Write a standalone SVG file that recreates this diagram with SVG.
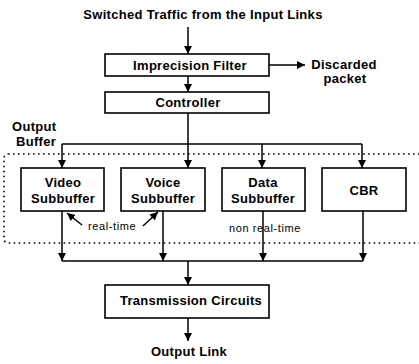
<svg xmlns="http://www.w3.org/2000/svg" width="419" height="364" viewBox="0 0 419 364">
  <defs>
    <marker id="arrow" viewBox="0 0 8 8" refX="8" refY="4" markerWidth="8" markerHeight="8" markerUnits="userSpaceOnUse" orient="auto">
      <path d="M0,0 L8,4 L0,8 z" fill="#000"/>
    </marker>
    <style>
      .box { fill: #fff; stroke: #000; stroke-width: 1.6; }
      .line { fill: none; stroke: #000; stroke-width: 1.5; }
      .arr { fill: none; stroke: #000; stroke-width: 1.5; marker-end: url(#arrow); }
      .buffer { fill: none; stroke: #000; stroke-width: 1.6; stroke-dasharray: 1.6 3.4; }
      .lbl { font-family: "Liberation Sans", Arial, sans-serif; font-weight: bold; font-size: 13px; letter-spacing: 0.3px; fill: #000; }
      .c { text-anchor: middle; }
      .small { font-family: "Liberation Sans", Arial, sans-serif; font-size: 11px; letter-spacing: 0.6px; fill: #000; }
    </style>
  </defs>
  <rect width="419" height="364" fill="#fff"/>

  <!-- output buffer enclosure -->
  <rect class="buffer" x="4" y="154" width="430" height="89" rx="4"/>
  <text class="lbl" x="12" y="131">Output</text>
  <text class="lbl" x="16" y="146">Buffer</text>

  <!-- connectors -->
  <g id="connectors">
    <line class="arr" x1="188" y1="27" x2="188" y2="54"/>
    <line class="arr" x1="269" y1="65" x2="305" y2="65"/>
    <line class="arr" x1="188" y1="76" x2="188" y2="92"/>
    <!-- controller to subbuffers -->
    <line class="line" x1="188" y1="113" x2="188" y2="144"/>
    <line class="line" x1="62" y1="144" x2="362" y2="144"/>
    <line class="arr" x1="62" y1="144" x2="62" y2="168"/>
    <line class="arr" x1="188" y1="144" x2="188" y2="168"/>
    <line class="arr" x1="262" y1="144" x2="262" y2="168"/>
    <line class="arr" x1="362" y1="144" x2="362" y2="168"/>
    <!-- subbuffers to transmission -->
    <line class="arr" x1="62" y1="211" x2="62" y2="261"/>
    <line class="arr" x1="163" y1="211" x2="163" y2="261"/>
    <line class="arr" x1="263" y1="211" x2="263" y2="261"/>
    <line class="arr" x1="363" y1="211" x2="363" y2="261"/>
    <line class="line" x1="62" y1="261" x2="363" y2="261"/>
    <line class="arr" x1="188" y1="261" x2="188" y2="285"/>
    <line class="arr" x1="188" y1="318" x2="188" y2="341"/>
    <!-- real-time pointers -->
    <line class="arr" x1="82" y1="225" x2="67" y2="213"/>
    <line class="arr" x1="143" y1="226" x2="158" y2="212"/>
  </g>

  <text class="lbl c" x="203" y="19">Switched Traffic from the Input Links</text>

  <g id="filter">
    <rect class="box" x="105" y="54" width="164" height="22"/>
    <text class="lbl c" x="190" y="70">Imprecision Filter</text>
  </g>
  <g id="discarded">
    <text class="lbl c" x="344" y="69">Discarded</text>
    <text class="lbl c" x="345" y="83">packet</text>
  </g>
  <g id="controller">
    <rect class="box" x="105" y="92" width="164" height="21"/>
    <text class="lbl c" x="188" y="107">Controller</text>
  </g>

  <g id="video">
    <rect class="box" x="21" y="168" width="83" height="43"/>
    <text class="lbl c" x="63" y="187">Video</text>
    <text class="lbl c" x="63" y="203">Subbuffer</text>
  </g>
  <g id="voice">
    <rect class="box" x="121" y="168" width="84" height="43"/>
    <text class="lbl c" x="163" y="187">Voice</text>
    <text class="lbl c" x="163" y="203">Subbuffer</text>
  </g>
  <g id="data">
    <rect class="box" x="222" y="168" width="83" height="43"/>
    <text class="lbl c" x="263" y="187">Data</text>
    <text class="lbl c" x="263" y="203">Subbuffer</text>
  </g>
  <g id="cbr">
    <rect class="box" x="322" y="168" width="84" height="43"/>
    <text class="lbl c" x="364" y="195">CBR</text>
  </g>

  <text class="small" x="88" y="230">real-time</text>
  <text class="small c" x="265" y="232">non real-time</text>

  <g id="transmission">
    <rect class="box" x="105" y="285" width="164" height="33"/>
    <text class="lbl c" x="191" y="305">Transmission Circuits</text>
  </g>
  <text class="lbl c" x="189" y="356">Output Link</text>
</svg>
